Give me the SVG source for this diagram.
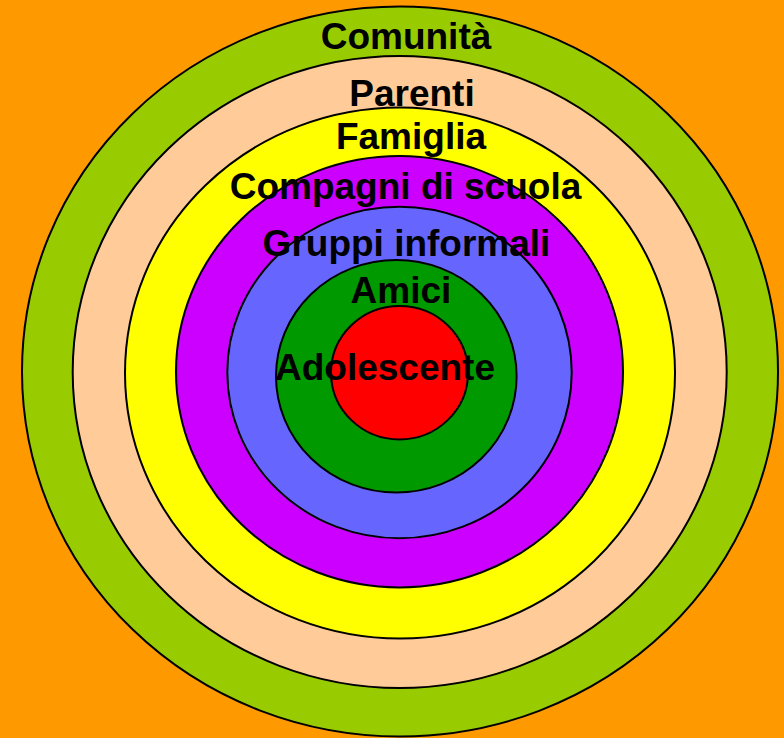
<svg xmlns="http://www.w3.org/2000/svg" width="784" height="738" viewBox="0 0 784 738">
<style>
.ring{stroke:#000;stroke-width:2}
.lbl{font-family:"Liberation Sans",Arial,sans-serif;font-weight:bold;font-size:37px;fill:#000;text-anchor:middle}
</style>
<rect x="0" y="0" width="784" height="738" fill="#FF9900"/>
<g id="comunita"><ellipse class="ring" cx="400" cy="371.5" rx="378" ry="365" fill="#99CC00"/></g>
<g id="parenti"><ellipse class="ring" cx="399.7" cy="372" rx="327" ry="316" fill="#FFCC99"/></g>
<g id="famiglia"><ellipse class="ring" cx="400" cy="373" rx="275" ry="265.5" fill="#FFFF00"/></g>
<g id="compagni"><ellipse class="ring" cx="399.5" cy="371.7" rx="223.5" ry="215.7" fill="#CC00FF"/></g>
<g id="gruppi"><ellipse class="ring" cx="399.5" cy="372.5" rx="172.2" ry="165.8" fill="#6666FF"/></g>
<g id="amici"><ellipse class="ring" cx="396.3" cy="376.3" rx="120.3" ry="116.3" fill="#009900"/></g>
<g id="adolescente"><ellipse class="ring" cx="399.5" cy="372.7" rx="68.5" ry="66.7" fill="#FF0000"/></g>
<g id="labels">
<text class="lbl" x="406" y="49">Comunità</text>
<text class="lbl" x="412" y="106">Parenti</text>
<text class="lbl" x="411" y="149">Famiglia</text>
<text class="lbl" x="405.5" y="199">Compagni di scuola</text>
<text class="lbl" x="406.5" y="256">Gruppi informali</text>
<text class="lbl" x="401" y="303">Amici</text>
<text class="lbl" x="385" y="380">Adolescente</text>
</g>
<g id="connectors"/>
</svg>
